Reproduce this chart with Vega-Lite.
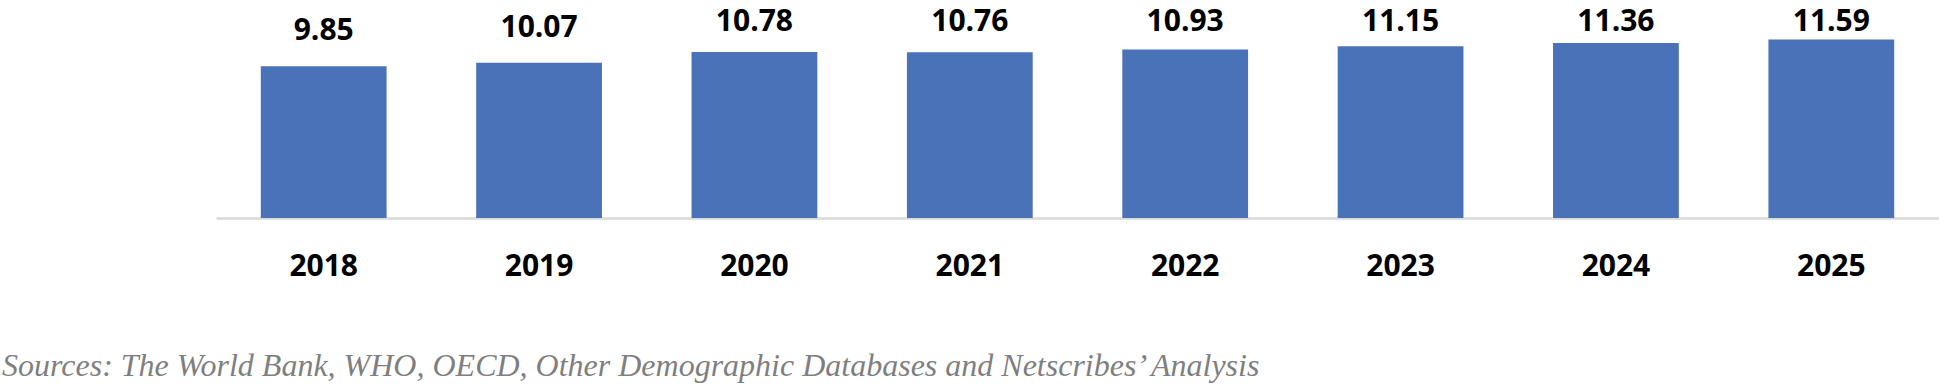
{
  "$schema": "https://vega.github.io/schema/vega-lite/v6.json",
  "width": 1723,
  "height": 218,
  "autosize": {"type": "none"},
  "padding": {"left": 216, "top": 0, "right": 0, "bottom": 166},
  "background": "white",
  "config": {"view": {"stroke": null}},
  "data": {
    "values": [
      {"year": "2018", "value": 9.85},
      {"year": "2019", "value": 10.07},
      {"year": "2020", "value": 10.78},
      {"year": "2021", "value": 10.76},
      {"year": "2022", "value": 10.93},
      {"year": "2023", "value": 11.15},
      {"year": "2024", "value": 11.36},
      {"year": "2025", "value": 11.59}
    ]
  },
  "title": {
    "text": "Sources: The World Bank, WHO, OECD, Other Demographic Databases and Netscribes’ Analysis",
    "orient": "bottom",
    "anchor": "start",
    "dx": -214,
    "offset": 70,
    "font": "Liberation Serif",
    "fontStyle": "italic",
    "fontWeight": "normal",
    "fontSize": 32,
    "color": "#7f7f7f"
  },
  "encoding": {
    "x": {
      "field": "year",
      "type": "nominal",
      "sort": null,
      "scale": {"paddingInner": 0.416, "paddingOuter": 0.208},
      "axis": {
        "title": null,
        "labelAngle": 0,
        "ticks": false,
        "tickSize": 0,
        "labelPadding": 57,
        "labelBaseline": "alphabetic",
        "labelFont": "Open Sans",
        "labelFontWeight": "bold",
        "labelFontSize": 30,
        "labelColor": "#000000",
        "domainColor": "#d9d9d9",
        "domainWidth": 2.5,
        "grid": false
      }
    }
  },
  "layer": [
    {
      "mark": {"type": "bar", "color": "#4a72b8"},
      "encoding": {
        "y": {
          "field": "value",
          "type": "quantitative",
          "scale": {"domain": [0, 14.15], "nice": false},
          "axis": null
        }
      }
    },
    {
      "mark": {
        "type": "text",
        "baseline": "alphabetic",
        "dy": -26,
        "font": "Open Sans",
        "fontWeight": "bold",
        "fontSize": 30,
        "color": "#000000"
      },
      "encoding": {
        "y": {
          "field": "value",
          "type": "quantitative",
          "scale": {"domain": [0, 10.45], "range": [218, 57], "clamp": true, "nice": false},
          "axis": null
        },
        "text": {"field": "value", "type": "quantitative", "format": ".2f"}
      }
    }
  ],
  "resolve": {"scale": {"y": "independent"}}
}
